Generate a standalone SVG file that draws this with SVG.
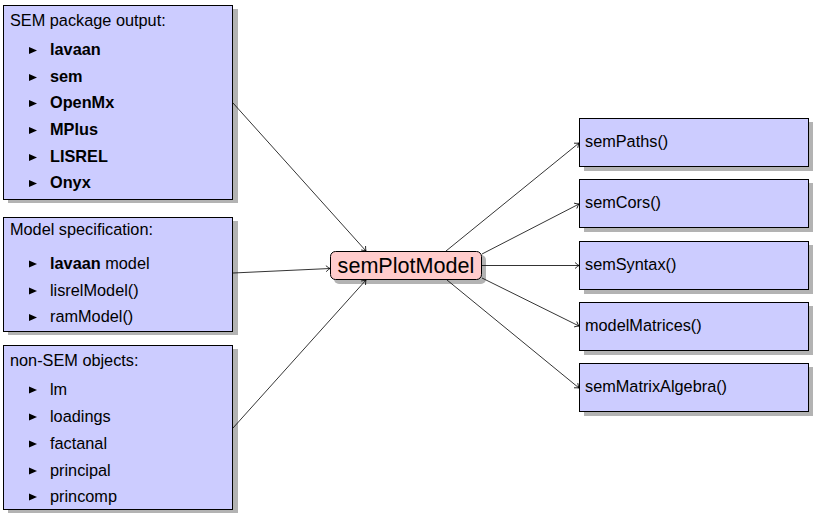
<svg xmlns="http://www.w3.org/2000/svg" width="813" height="513" viewBox="0 0 813 513">
<defs>
<style>
.box{fill:#ccccff;stroke:#000;stroke-width:1}
.shadow{fill:#b3b3b3;stroke:none}
.node{fill:#ffcccc;stroke:#000;stroke-width:1}
.t{font-family:"Liberation Sans",Arial,sans-serif;font-size:16.3px;fill:#000}
.b{font-weight:bold}
.big{font-family:"Liberation Sans",Arial,sans-serif;font-size:21.6px;fill:#000}
.bul{fill:#000}
.edge{stroke:#000;stroke-width:0.8;fill:none;marker-end:url(#arr)}
</style>
<marker id="arr" viewBox="-5 -4 6 8" markerWidth="6" markerHeight="8" refX="0" refY="0" orient="auto" markerUnits="userSpaceOnUse">
<path d="M-4,-3 Q-1.5,-0.8 0,0 Q-1.5,0.8 -4,3" fill="none" stroke="#000" stroke-width="0.8"/>
</marker>
<path id="tri" d="M0,-3.6 L8,0 L0,3.6 Z"/>
</defs>
<rect width="813" height="513" fill="#fff"/>

<g id="sem-package">
<rect class="shadow" x="8" y="9" width="230" height="194"/>
<rect class="box" x="3.5" y="5.5" width="229" height="194"/>
<text class="t" x="10" y="26">SEM package output:</text>
<use href="#tri" x="29" y="50.5" class="bul"/><text class="t b" x="50" y="55">lavaan</text>
<use href="#tri" x="29" y="77.5" class="bul"/><text class="t b" x="50" y="82">sem</text>
<use href="#tri" x="29" y="103.5" class="bul"/><text class="t b" x="50" y="108">OpenMx</text>
<use href="#tri" x="29" y="130.5" class="bul"/><text class="t b" x="50" y="135">MPlus</text>
<use href="#tri" x="29" y="157.5" class="bul"/><text class="t b" x="50" y="162">LISREL</text>
<use href="#tri" x="29" y="183.5" class="bul"/><text class="t b" x="50" y="188">Onyx</text>
</g>

<g id="model-spec">
<rect class="shadow" x="8" y="221" width="230" height="114"/>
<rect class="box" x="3.5" y="217.5" width="229" height="114"/>
<text class="t" x="10" y="235">Model specification:</text>
<use href="#tri" x="29" y="264" class="bul"/><text class="t" x="50" y="268.5"><tspan class="b">lavaan</tspan> model</text>
<use href="#tri" x="29" y="291" class="bul"/><text class="t" x="50" y="295.5">lisrelModel()</text>
<use href="#tri" x="29" y="317.5" class="bul"/><text class="t" x="50" y="322">ramModel()</text>
</g>

<g id="non-sem">
<rect class="shadow" x="8" y="349" width="230" height="166"/>
<rect class="box" x="3.5" y="345.5" width="229" height="164"/>
<text class="t" x="10" y="366">non-SEM objects:</text>
<use href="#tri" x="29" y="390" class="bul"/><text class="t" x="50" y="394.5">lm</text>
<use href="#tri" x="29" y="417" class="bul"/><text class="t" x="50" y="421.5">loadings</text>
<use href="#tri" x="29" y="444" class="bul"/><text class="t" x="50" y="448.5">factanal</text>
<use href="#tri" x="29" y="471" class="bul"/><text class="t" x="50" y="475.5">principal</text>
<use href="#tri" x="29" y="497" class="bul"/><text class="t" x="50" y="501.5">princomp</text>
</g>

<g id="semPlotModel">
<rect class="shadow" x="334" y="255" width="152" height="29" rx="5"/>
<rect class="node" x="330.5" y="251.5" width="151" height="28" rx="5"/>
<text class="big" x="406" y="273" text-anchor="middle">semPlotModel</text>
</g>

<g id="semPaths">
<rect class="shadow" x="584" y="122" width="230" height="49"/>
<rect class="box" x="579.5" y="118.5" width="229" height="48"/>
<text class="t" x="585" y="147">semPaths()</text>
</g>
<g id="semCors">
<rect class="shadow" x="584" y="183" width="230" height="49"/>
<rect class="box" x="579.5" y="179.5" width="229" height="48"/>
<text class="t" x="585" y="208">semCors()</text>
</g>
<g id="semSyntax">
<rect class="shadow" x="584" y="245" width="230" height="49"/>
<rect class="box" x="579.5" y="241.5" width="229" height="48"/>
<text class="t" x="585" y="270">semSyntax()</text>
</g>
<g id="modelMatrices">
<rect class="shadow" x="584" y="306" width="230" height="49"/>
<rect class="box" x="579.5" y="302.5" width="229" height="48"/>
<text class="t" x="585" y="331">modelMatrices()</text>
</g>
<g id="semMatrixAlgebra">
<rect class="shadow" x="584" y="367" width="230" height="49"/>
<rect class="box" x="579.5" y="363.5" width="229" height="48"/>
<text class="t" x="585" y="392">semMatrixAlgebra()</text>
</g>

<g id="connectors">
<line class="edge" x1="233" y1="103" x2="366" y2="251"/>
<line class="edge" x1="233" y1="273" x2="330" y2="268.5"/>
<line class="edge" x1="233" y1="428" x2="366" y2="280"/>
<line class="edge" x1="446" y1="251" x2="579" y2="143"/>
<line class="edge" x1="482" y1="254" x2="579" y2="204"/>
<line class="edge" x1="482" y1="265.5" x2="579" y2="265.5"/>
<line class="edge" x1="482" y1="278" x2="579" y2="326"/>
<line class="edge" x1="447" y1="280" x2="579" y2="388"/>
</g>
</svg>
